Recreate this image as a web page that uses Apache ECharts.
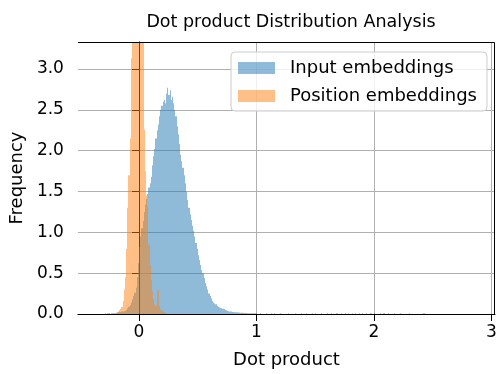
<!DOCTYPE html>
<html>
<head>
<meta charset="utf-8">
<script src="https://cdn.jsdelivr.net/npm/echarts@6/dist/echarts.min.js"></script>
<style>
  html, body { margin: 0; padding: 0; background: #fff; }
  #chart { width: 500px; height: 374px; }
</style>
</head>
<body>
<div id="chart"></div>
<script>
// Histogram densities of dot products, fixed-width bins
const binWidth = 0.01;

// Input embeddings: bins starting at -0.30
const inputStart = -0.30;
const inputDensity = [
  0, 0.01, 0, 0.01, 0.01, 0, 0.01, 0.01, 0.01, 0.01,
  0.015, 0.02, 0.02, 0.02, 0.025, 0.03, 0.03, 0.035, 0.04, 0.05,
  0.07, 0.09, 0.11, 0.14, 0.18, 0.22, 0.26, 0.32, 0.45, 0.62,
  0.82, 0.95, 1.05, 1.14, 1.25, 1.34, 1.41, 1.47, 1.55, 1.6,
  1.68, 1.82, 1.93, 2.02, 2.15, 2.25, 2.32, 2.42, 2.5, 2.55,
  2.6, 2.62, 2.58, 2.7, 2.77, 2.68, 2.74, 2.62, 2.66, 2.58,
  2.5, 2.42, 2.3, 2.2, 2.08, 1.95, 1.87, 1.79, 1.7, 1.6,
  1.5, 1.4, 1.3, 1.22, 1.15, 1.08, 1.02, 0.95, 0.87, 0.8,
  0.72, 0.66, 0.6, 0.54, 0.5, 0.44, 0.38, 0.34, 0.3, 0.25,
  0.22, 0.19, 0.16, 0.14, 0.13, 0.12, 0.1, 0.09, 0.08, 0.075,
  0.07, 0.065, 0.06, 0.05, 0.045, 0.04, 0.035, 0.03, 0.03, 0.025,
  0.025, 0.02, 0.02, 0.02, 0.018, 0.018, 0.015, 0.015, 0.015, 0.012,
  0.012, 0.012, 0.01, 0.01, 0.01, 0.008, 0.01, 0.008, 0.008, 0.008
];
// Sparse long tail of the input embeddings (bin start, density)
const inputTailStart = [
  1.03, 1.08, 1.12, 1.15, 1.20, 1.27, 1.33, 1.38, 1.42, 1.47, 1.50,
  1.55, 1.60, 1.63, 1.68, 1.72, 1.75, 1.78, 1.81, 1.84, 1.87, 1.90,
  1.93, 1.97, 2.00, 2.05, 2.08, 2.12, 2.17, 2.22, 2.30, 2.42
];
const inputTailDensity = [
  0.01, 0.008, 0.01, 0.008, 0.01, 0.008, 0.01, 0.008, 0.01, 0.01, 0.008,
  0.01, 0.008, 0.01, 0.01, 0.008, 0.01, 0.01, 0.008, 0.01, 0.01, 0.008,
  0.01, 0.008, 0.01, 0.008, 0.01, 0.008, 0.008, 0.01, 0.008, 0.008
];

// Position embeddings: bins starting at -0.19
const positionStart = -0.19;
const positionDensity = [
  0.01, 0.03, 0.05, 0.06, 0.09, 0.16, 0.3, 0.45, 0.8, 1.3,
  1.7, 2.15, 3.13,
  4.5, 6.5, 8, 9, 9.5, 9.6, 9.3, 8.6, 7.5, 6.2,
  2.26, 1.75, 1.45, 1.32, 0.85, 0.6, 0.42, 0.28, 0.18, 0.12, 0.1,
  0.28, 0.3, 0.1, 0.06, 0.04, 0.03, 0.02, 0.015, 0.01
];

const xTicks = [0, 1, 2, 3];
const yTicks = [0, 0.5, 1.0, 1.5, 2.0, 2.5, 3.0];
const seriesNames = ['Input embeddings', 'Position embeddings'];

const FONT = 'DejaVu Sans';
const BLUE = 'rgba(31,119,180,0.5)';
const ORANGE = 'rgba(255,127,14,0.5)';

function binsFrom(start, values) {
  return values.map((v, i) => [start + i * binWidth, start + (i + 1) * binWidth, v]);
}
function binsAt(starts, values) {
  return values.map((v, i) => [starts[i], starts[i] + binWidth, v]);
}

function renderBin(color) {
  return function (params, api) {
    const lo = api.coord([api.value(0), 0]);
    const hi = api.coord([api.value(1), api.value(2)]);
    const left = Math.round(lo[0]);
    const right = Math.max(Math.round(hi[0]), left + 1);
    const cs = params.coordSys;
    const shape = echarts.graphic.clipRectByRect(
      { x: left, y: hi[1], width: right - left, height: lo[1] - hi[1] },
      { x: cs.x, y: cs.y, width: cs.width, height: cs.height }
    );
    if (!shape) return null;
    return { type: 'rect', shape: shape, style: { fill: color } };
  };
}

const chart = echarts.init(document.getElementById('chart'), null, { renderer: 'canvas' });

chart.setOption({
  animation: false,
  backgroundColor: '#fff',
  title: {
    text: 'Dot product Distribution Analysis',
    left: 286,
    textAlign: 'center',
    top: 8,
    textStyle: { fontFamily: FONT, fontSize: 17.5, fontWeight: 'normal', color: '#000' }
  },
  legend: {
    orient: 'vertical',
    left: 231,
    top: 52,
    width: 257,
    data: seriesNames,
    icon: 'rect',
    itemWidth: 37,
    itemHeight: 12,
    itemGap: 10,
    padding: [7, 10, 6, 7],
    backgroundColor: 'rgba(255,255,255,0.8)',
    borderColor: '#cccccc',
    borderWidth: 1,
    borderRadius: 4,
    textStyle: { fontFamily: FONT, fontSize: 18, color: '#000', padding: [0, 0, 0, 10] }
  },
  grid: { left: 77, right: 5, top: 42, bottom: 59, show: false },
  xAxis: {
    type: 'value',
    min: -0.52,
    max: 3.03,
    name: 'Dot product',
    nameLocation: 'middle',
    nameGap: 37,
    nameTextStyle: { fontFamily: FONT, fontSize: 18, color: '#000' },
    axisLine: { show: true, onZero: false, lineStyle: { color: '#000', width: 1 } },
    axisTick: { show: true, length: 7, inside: false, customValues: xTicks, lineStyle: { color: '#000', width: 1 } },
    axisLabel: { customValues: xTicks, fontFamily: FONT, fontSize: 17, color: '#000', margin: 10,
      formatter: v => String(v) },
    splitLine: { show: true, lineStyle: { color: '#b0b0b0', width: 1 } }
  },
  yAxis: {
    type: 'value',
    min: 0,
    max: 3.33,
    name: 'Frequency',
    nameLocation: 'middle',
    nameGap: 50,
    nameTextStyle: { fontFamily: FONT, fontSize: 18, color: '#000' },
    axisLine: { show: true, lineStyle: { color: '#000', width: 1 } },
    axisTick: { show: true, length: 7, customValues: yTicks, lineStyle: { color: '#000', width: 1 } },
    axisLabel: { customValues: yTicks, fontFamily: FONT, fontSize: 17, color: '#000', margin: 14,
      formatter: v => v.toFixed(1) },
    splitLine: { show: true, lineStyle: { color: '#b0b0b0', width: 1 } }
  },
  series: [
    {
      name: seriesNames[0],
      type: 'custom',
      itemStyle: { color: BLUE },
      encode: { x: [0, 1], y: 2 },
      renderItem: renderBin(BLUE),
      data: binsFrom(inputStart, inputDensity).concat(binsAt(inputTailStart, inputTailDensity)),
      z: 2
    },
    {
      name: seriesNames[1],
      type: 'custom',
      itemStyle: { color: ORANGE },
      encode: { x: [0, 1], y: 2 },
      renderItem: renderBin(ORANGE),
      data: binsFrom(positionStart, positionDensity),
      z: 3
    },
    {
      // top and right frame of the plot area
      type: 'custom',
      silent: true,
      data: [[0]],
      renderItem: function (params, api) {
        const cs = params.coordSys;
        return {
          type: 'polyline',
          shape: { points: [[cs.x, cs.y + 0.5], [cs.x + cs.width - 0.5, cs.y + 0.5], [cs.x + cs.width - 0.5, cs.y + cs.height]] },
          style: { stroke: '#000', lineWidth: 1, fill: null }
        };
      },
      z: 5
    }
  ]
});
</script>
</body>
</html>
